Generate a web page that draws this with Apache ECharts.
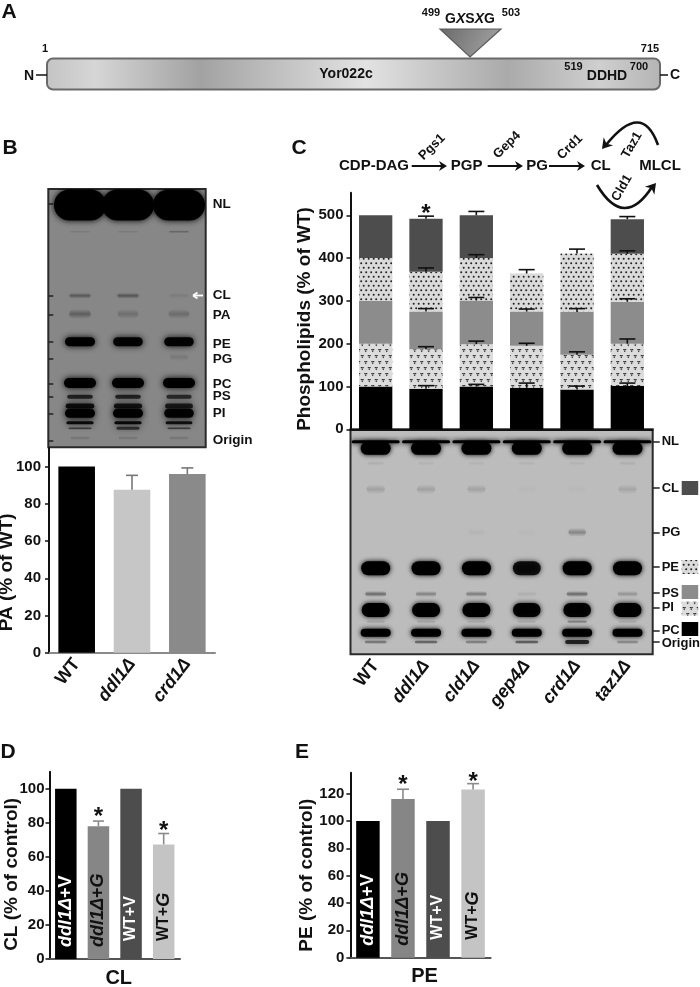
<!DOCTYPE html>
<html>
<head>
<meta charset="utf-8">
<script src="https://cdn.jsdelivr.net/npm/echarts@6/dist/echarts.min.js"></script>
<style>
  html, body { margin: 0; padding: 0; background: #fff; }
  #chart { width: 700px; height: 987px; }
</style>
</head>
<body>
<div id="chart"></div>
<script>
// panel B bars
const bLabels = ['WT', 'ddl1Δ', 'crd1Δ'];
const bValues = [100, 87.5, 96];
const bErrTops = [100, 95.3, 99.3];

// panel C stacks, bottom to top
const cLabels = ['WT', 'ddl1Δ', 'cld1Δ', 'gep4Δ', 'crd1Δ', 'taz1Δ'];
const cPC = [100, 95, 100, 97, 93, 101];
const cPI = [100, 92, 99, 98, 81, 99];
const cPS = [100, 88, 102, 80, 100, 98];
const cPE = [100, 93, 99, 89, 137, 112];
const cCL = [100, 124, 100, 0, 0, 81];
const cErrPC = [100, 102, 105, 108, 101, 108];
const cErrPI = [200, 193, 206, 201, 181, 211];
const cErrPS = [300, 282, 308, 281, 282, 305];
const cErrPE = [400, 377, 408, 373, 421, 417];
const cErrCL = [500, 498, 509, 0, 0, 497];

// panels D and E
const dLabels = ['ddl1Δ+V', 'ddl1Δ+G', 'WT+V', 'WT+G'];
const dValues = [100, 78, 100, 67.3];
const dErrTops = [100, 81, 100, 73.7];
const eValues = [100, 116, 100, 123];
const eErrTops = [100, 123.2, 100, 127.3];

// gel bands: migration distance from gel top, then one intensity per lane
const bLanePos = [31.7, 79.7, 130.7];
const bBandPos = [16, 42.7, 106.7, 125, 152.7, 168, 194, 207.7, 217, 224.3, 233.7, 239.3, 249];
const bBandInt = [
  [1, 1, 1], [0.1, 0.1, 0.25], [0.3, 0.32, 0.08], [0.26, 0.16, 0.18], [1, 0.95, 0.95],
  [0, 0, 0.1], [1, 1, 1], [0.7, 0.7, 0.65], [0.85, 0.8, 0.75], [1, 1, 0.95],
  [0.9, 0.9, 0.85], [0.55, 0.6, 0.55], [0.15, 0.15, 0.15]
];
const bTickPos = [15, 106.7, 125.5, 153, 170, 195, 207.7, 224.5, 251.5];
const bLabelPos = [15, 106.7, 126.5, 155, 170, 195, 207.7, 224.5, 251.7, 258.3];
const bTickNames = ['NL', 'CL', 'PA', 'PE', 'PG', 'PC', 'PS', 'PI', 'Origin', ''];

const cBandPos = [12.4, 19, 34, 60, 103, 139, 164.7, 180.7, 192.4, 203.4, 212.7];
const cBandInt = [
  [1, 1, 1, 1, 1, 1], [1, 1, 1, 1, 1, 1], [0.07, 0.05, 0.05, 0.05, 0.05, 0.07],
  [0.13, 0.13, 0.12, 0.02, 0.02, 0.11], [0, 0, 0.04, 0.02, 0.25, 0],
  [1, 1, 1, 0.86, 1, 1], [0.38, 0.28, 0.3, 0.07, 0.38, 0.2], [1, 1, 1, 0.95, 0.95, 1],
  [0.12, 0.12, 0.1, 0.1, 0.3, 0.1], [1, 1, 1, 1, 1, 1], [0.4, 0.5, 0.35, 0.55, 0.75, 0.3]
];
const cTickPos = [12.4, 58.7, 103, 137.7, 163.7, 178.2, 201.7, 212.4];
const cLabelPos = [12.4, 58.7, 103, 137.7, 163.7, 178.2, 200.7, 213.7, 225];
const cTickNames = ['NL', 'CL', 'PG', 'PE', 'PS', 'PI', 'PC', 'Origin', ''];

// band drawing sizes, same order as the positions above
const bBandW = [52, 25, 26, 27, 30, 24, 32, 28, 30, 30, 28, 26, 25];
const bBandH = [31, 3, 6, 10, 9, 8, 10, 4, 5, 9, 3, 3, 4];
const cBandW = [48, 30, 21, 24, 22, 29, 25, 28, 24, 30, 26];
const cBandH = [3, 13, 5, 10, 9, 14, 6, 14, 4, 8, 4];

const FONT = '"Liberation Sans", Arial, sans-serif';
const bold = (size, color) => ({ fontFamily: FONT, fontWeight: 'bold', fontSize: size, color: color || '#111' });

function dotPattern() {
  const c = document.createElement('canvas');
  c.width = 5; c.height = 9;
  const g = c.getContext('2d');
  g.fillStyle = '#dadada'; g.fillRect(0, 0, 5, 9);
  g.fillStyle = '#222';
  [[1.2, 2.2], [3.7, 6.7]].forEach(p => { g.beginPath(); g.arc(p[0], p[1], 1, 0, 7); g.fill(); });
  return { image: c, repeat: 'repeat' };
}

function heartPattern() {
  const c = document.createElement('canvas');
  c.width = 7; c.height = 12;
  const g = c.getContext('2d');
  g.fillStyle = '#dcdcdc'; g.fillRect(0, 0, 7, 12);
  g.fillStyle = '#222';
  [[1.75, 1], [5.25, 7]].forEach(p => {
    g.beginPath();
    g.arc(p[0] - 0.8, p[1] + 0.8, 0.85, 0, 7);
    g.arc(p[0] + 0.8, p[1] + 0.8, 0.85, 0, 7);
    g.moveTo(p[0] - 1.6, p[1] + 1);
    g.lineTo(p[0], p[1] + 3.2);
    g.lineTo(p[0] + 1.6, p[1] + 1);
    g.fill();
  });
  return { image: c, repeat: 'repeat' };
}

const dots = dotPattern();
const hearts = heartPattern();

// error bars, stem from the bar top to the cap
function errorSeries(gridIndex, bases, tops, color, capW) {
  return {
    type: 'custom', xAxisIndex: gridIndex, yAxisIndex: gridIndex, z: 6, silent: true,
    data: bases.map((b, i) => [i, b, tops[i]]).filter(d => d[2] > d[1]),
    encode: { x: 0, y: [1, 2] },
    renderItem(params, api) {
      const a = api.coord([api.value(0), api.value(1)]);
      const b = api.coord([api.value(0), api.value(2)]);
      const style = { stroke: color, lineWidth: 1.6 };
      return {
        type: 'group',
        children: [
          { type: 'line', shape: { x1: a[0], y1: a[1], x2: b[0], y2: b[1] }, style },
          { type: 'line', shape: { x1: b[0] - capW / 2, y1: b[1], x2: b[0] + capW / 2, y2: b[1] }, style }
        ]
      };
    }
  };
}

function starSeries(gridIndex, points) {
  return {
    type: 'custom', xAxisIndex: gridIndex, yAxisIndex: gridIndex, z: 7, silent: true,
    data: points,
    renderItem(params, api) {
      const p = api.coord([api.value(0), api.value(1)]);
      return {
        type: 'text',
        style: { x: p[0], y: p[1], text: '*', align: 'center', verticalAlign: 'top', font: 'bold 24px ' + FONT, fill: '#111' }
      };
    }
  };
}

// gel bands as soft rounded rects
function gelSeries(gridIndex, lanes, pos, ints, widths, heights, blur) {
  const data = [];
  pos.forEach((y, row) => {
    ints[row].forEach((v, lane) => {
      if (v > 0) data.push([lanes ? lanes[lane] : lane, y, v, row]);
    });
  });
  return {
    type: 'custom', xAxisIndex: gridIndex, yAxisIndex: gridIndex, z: 3, silent: true,
    data,
    encode: { x: 0, y: 1 },
    renderItem(params, api) {
      const p = api.coord([api.value(0), api.value(1)]);
      const v = api.value(2);
      const row = api.value(3);
      const w = widths[row] * (v < 1 ? 0.72 + 0.28 * v : 1);
      const h = heights[row];
      const color = 'rgba(0,0,0,' + v + ')';
      const edge = 'rgba(0,0,0,0)';
      const soft = v < 0.6;
      const cs = params.coordSys;
      return {
        type: 'rect',
        shape: { x: p[0] - w / 2, y: p[1] - h / 2, width: w, height: h, r: h / 2 },
        clipPath: { type: 'rect', shape: { x: cs.x, y: cs.y, width: cs.width, height: cs.height } },
        style: {
          fill: soft
            ? { type: 'linear', x: 0, y: 0, x2: 0, y2: 1, colorStops: [{ offset: 0, color: edge }, { offset: 0.5, color }, { offset: 1, color: edge }] }
            : color,
          shadowBlur: soft ? 4 : blur,
          shadowColor: color
        }
      };
    }
  };
}

function plainBars(gridIndex, values, colors, width, labels) {
  return {
    type: 'bar', xAxisIndex: gridIndex, yAxisIndex: gridIndex, barWidth: width, z: 4,
    data: values.map((v, i) => {
      const item = { value: v, itemStyle: { color: colors[i] } };
      if (labels) {
        item.label = {
          show: true, position: 'insideBottom', distance: i < 2 ? 12 : 18, rotate: 90,
          align: 'left', verticalAlign: 'middle',
          formatter: labels.rich[i],
          rich: {
            i: { fontFamily: FONT, fontWeight: 'bold', fontStyle: 'italic', fontSize: 18, color: labels.colors[i] },
            n: { fontFamily: FONT, fontWeight: 'bold', fontSize: i < 2 ? 18 : 16, color: labels.colors[i] }
          }
        };
      }
      return item;
    })
  };
}

function stackBar(name, values, fill) {
  return {
    name, type: 'bar', xAxisIndex: 2, yAxisIndex: 2, stack: 'total', barWidth: 33.3, z: 4,
    itemStyle: { color: fill }, data: values
  };
}

function cumulative(layers) {
  const sum = cLabels.map(() => 0);
  return layers.map(l => l.map((v, i) => (sum[i] += v)));
}

const cTops = cumulative([cPC, cPI, cPS, cPE, cCL]);
const laneRich = {
  n: bold(18),
  i: { fontFamily: FONT, fontWeight: 'bold', fontStyle: 'italic', fontSize: 18, color: '#111' }
};
const laneFormat = v => (v === 'WT' ? '{n|WT}' : '{i|' + v + '}');
const inBarRich = ['{i|ddl1Δ}{n|+V}', '{i|ddl1Δ}{n|+}{i|G}', '{n|WT+V}', '{n|WT+}{i|G}'];

function valueAxis(gridIndex, max, ticks, name, gap, size, shift, margin) {
  return {
    type: 'value', gridIndex, min: 0, max,
    name, nameLocation: 'middle', nameGap: gap, nameRotate: 90, nameMoveOverlap: false,
    nameTextStyle: Object.assign(bold(size), { padding: [0, shift, 0, 0] }),
    axisLine: { show: true, lineStyle: { color: '#111', width: 2 } },
    axisTick: { show: true, length: 4, customValues: ticks, lineStyle: { color: '#111', width: 1.5 } },
    axisLabel: Object.assign({ customValues: ticks, margin }, bold(15)),
    splitLine: { show: false }
  };
}

// the last label position carries an empty name, so the axis keeps the real last two
function gelAxis(gridIndex, max, ticks, labels, names, size, tick, margin) {
  return {
    type: 'value', gridIndex, min: 0, max, inverse: true, position: 'right',
    axisLine: { show: false },
    axisTick: { show: true, length: tick, customValues: ticks, lineStyle: { color: '#222', width: 1.5 } },
    axisLabel: Object.assign({
      customValues: labels, margin, hideOverlap: false,
      formatter: v => names[labels.indexOf(v)] || ''
    }, bold(size)),
    splitLine: { show: false }
  };
}

const barXAxis = (gridIndex, data, color, extra) => Object.assign({
  type: 'category', gridIndex, data,
  axisLine: { show: true, onZero: false, lineStyle: { color, width: 2 } },
  axisTick: { show: false },
  axisLabel: { show: false }
}, extra);

const gelFrame = (left, right, top, bottom, bg) => ({
  left, top, width: right - left, height: bottom - top, show: true, outerBoundsMode: 'none',
  backgroundColor: bg, borderColor: '#2a2a2a', borderWidth: 2
});
const barGrid = (left, right, top, bottom) => ({ left, top, width: right - left, height: bottom - top, outerBoundsMode: 'none' });

const txt = (x, y, text, font, extra) => ({
  type: 'text', x, y, z: 20,
  style: Object.assign({ text, font: font + ' ' + FONT, fill: '#111', align: 'center', verticalAlign: 'middle' }, extra)
});
const seg = (x1, y1, x2, y2, w, color) => ({
  type: 'line', z: 20, shape: { x1, y1, x2, y2 }, style: { stroke: color || '#111', lineWidth: w }
});
const head = (x, y, angle, size) => {
  // filled barbed arrow head pointing along angle
  const a = angle * Math.PI / 180;
  const pt = (d, o) => [x + Math.cos(a) * d - Math.sin(a) * o, y + Math.sin(a) * d + Math.cos(a) * o];
  return { type: 'polygon', z: 20, shape: { points: [pt(0, 0), pt(-size, -size * 0.62), pt(-size * 0.7, 0), pt(-size, size * 0.62)] }, style: { fill: '#111' } };
};
const curve = (x1, y1, cx, cy, x2, y2) => ({
  type: 'bezierCurve', z: 20, shape: { x1, y1, x2, y2, cpx1: cx, cpy1: cy },
  style: { stroke: '#111', lineWidth: 2.6, fill: null }
});
const swatch = (y, fill) => ({ type: 'rect', z: 20, shape: { x: 681.7, y, width: 16.5, height: 14 }, style: { fill } });

const graphics = [
  // panel letters
  txt(9, 12, 'A', 'bold 21px'), txt(10, 148, 'B', 'bold 21px'), txt(299, 148, 'C', 'bold 21px'),
  txt(8, 752, 'D', 'bold 21px'), txt(302, 752, 'E', 'bold 21px'),

  // panel A schematic
  seg(36, 75, 47, 75, 1.5), seg(660, 75, 668, 75, 1.5),
  {
    type: 'rect', z: 18, shape: { x: 47, y: 58.5, width: 613, height: 31, r: 6 },
    style: {
      stroke: '#6a6a6a', lineWidth: 2,
      fill: {
        type: 'linear', x: 0, y: 0, x2: 1, y2: 0,
        colorStops: [
          { offset: 0, color: '#c4c4c4' }, { offset: 0.08, color: '#d6d6d6' }, { offset: 0.25, color: '#a2a2a2' },
          { offset: 0.52, color: '#e2e2e2' }, { offset: 0.75, color: '#aaaaaa' }, { offset: 0.9, color: '#cfcfcf' },
          { offset: 1, color: '#b4b4b4' }
        ]
      }
    }
  },
  {
    type: 'polygon', z: 19, shape: { points: [[440, 29], [501, 29], [470, 57]] },
    style: {
      stroke: '#5c5c5c', lineWidth: 1.2,
      fill: { type: 'linear', x: 0, y: 0, x2: 1, y2: 1, colorStops: [{ offset: 0, color: '#6a6a6a' }, { offset: 1, color: '#a8a8a8' }] }
    }
  },
  txt(29, 76, 'N', 'bold 14px'), txt(675, 75, 'C', 'bold 14px'),
  txt(45, 49, '1', 'bold 11px'), txt(650, 49, '715', 'bold 11px'),
  txt(431, 13, '499', 'bold 11px'), txt(511, 13, '503', 'bold 11px'),
  {
    type: 'text', x: 470, y: 19, z: 20,
    style: {
      text: '{n|G}{i|X}{n|S}{i|X}{n|G}', align: 'center', verticalAlign: 'middle',
      rich: {
        n: { fontFamily: FONT, fontSize: 14, fontWeight: 'bold', fill: '#111' },
        i: { fontFamily: FONT, fontSize: 14, fontWeight: 'bold', fontStyle: 'italic', fill: '#111' }
      }
    }
  },
  txt(346, 74, 'Yor022c', 'bold 14px'),
  txt(573.5, 67, '519', 'bold 11px'), txt(607, 76, 'DDHD', 'bold 14px'), txt(639, 67, '700', 'bold 11px'),

  // white arrow on the panel B gel
  seg(194, 295.5, 203, 295.5, 1.8, '#fff'), seg(193, 295.5, 197.5, 292.5, 1.8, '#fff'), seg(193, 295.5, 197.5, 298.5, 1.8, '#fff'),

  // panel C pathway
  txt(374, 166, 'CDP-DAG', 'bold 15px'), txt(466.7, 166, 'PGP', 'bold 15px'), txt(537, 166, 'PG', 'bold 15px'),
  txt(600.7, 166, 'CL', 'bold 15px'), txt(660, 166, 'MLCL', 'bold 15px'),
  seg(411.7, 166, 444, 166, 2), head(447, 166, 0, 8),
  seg(487.7, 166, 520, 166, 2), head(523, 166, 0, 8),
  seg(549, 166, 582, 166, 2), head(585, 166, 0, 8),
  Object.assign(txt(432, 147, 'Pgs1', 'bold 13px'), { rotation: Math.PI / 4 }),
  Object.assign(txt(507, 145, 'Gep4', 'bold 13px'), { rotation: Math.PI / 4 }),
  Object.assign(txt(570, 147, 'Crd1', 'bold 13px'), { rotation: Math.PI / 4 }),
  Object.assign(txt(632, 145, 'Taz1', 'bold 13px'), { rotation: Math.PI / 3 }),
  Object.assign(txt(622, 188, 'Cld1', 'bold 13px'), { rotation: Math.PI / 3 }),
  curve(658, 145, 642, 100, 606, 145), head(602, 149, 130, 10),
  curve(597, 185, 624, 230, 652, 187), head(656, 183, -50, 10),

  // panel C legend swatches
  swatch(481, '#4d4d4d'), swatch(560, dots), swatch(585, '#8c8c8c'), swatch(601.7, hearts), swatch(622, '#000')
];

const option = {
  animation: false,
  backgroundColor: '#fff',
  textStyle: { fontFamily: FONT },
  graphic: { elements: graphics },
  grid: [
    barGrid(49, 215, 448, 652.7),
    gelFrame(48.3, 205.7, 189, 447.3, '#878787'),
    barGrid(350.5, 652.5, 192.7, 429.3),
    gelFrame(350.5, 652.7, 429.3, 654.3, '#bcbcbc'),
    barGrid(49.5, 180, 771.7, 959),
    barGrid(350.4, 490.6, 772.7, 957.7)
  ],
  xAxis: [
    barXAxis(0, bLabels, '#8a8a8a', { axisLabel: { show: true, rotate: 52, margin: 8, interval: 0, formatter: laneFormat, rich: laneRich } }),
    { type: 'value', gridIndex: 1, min: 0, max: 157.4, show: false },
    barXAxis(2, cLabels, '#111'),
    {
      type: 'category', gridIndex: 3, data: cLabels,
      axisLine: { show: false }, axisTick: { show: false },
      axisLabel: { show: true, rotate: 52, margin: 8, interval: 0, formatter: laneFormat, rich: laneRich }
    },
    barXAxis(4, dLabels, '#555', { name: 'CL', nameLocation: 'middle', nameGap: 9, nameTextStyle: Object.assign(bold(20), { padding: [0, 0, 0, 8], verticalAlign: 'top' }) }),
    barXAxis(5, dLabels, '#555', { name: 'PE', nameLocation: 'middle', nameGap: 9, nameTextStyle: Object.assign(bold(20), { padding: [0, 0, 0, 8], verticalAlign: 'top' }) })
  ],
  yAxis: [
    valueAxis(0, 110, [0, 20, 40, 60, 80, 100], 'PA (% of WT)', 33, 19, 44, 8),
    gelAxis(1, 258.3, bTickPos, bLabelPos, bTickNames, 13.5, 5, 7),
    valueAxis(2, 552.8, [0, 100, 200, 300, 400, 500], 'Phospholipids (% of WT)', 36, 19, 16, 7),
    gelAxis(3, 225, cTickPos, cLabelPos, cTickNames, 13, 7, 9),
    valueAxis(4, 110, [0, 20, 40, 60, 80, 100], 'CL (% of control)', 28, 19, 18, 5),
    valueAxis(5, 135.3, [0, 20, 40, 60, 80, 100, 120], 'PE (% of control)', 34, 19, 20, 6)
  ],
  series: [
    plainBars(0, bValues, ['#000', '#c6c6c6', '#8a8a8a'], 36.6),
    errorSeries(0, bValues, bErrTops, '#777', 12),
    gelSeries(1, bLanePos, bBandPos, bBandInt, bBandW, bBandH, 6),

    stackBar('PC', cPC, '#000'),
    stackBar('PI', cPI, hearts),
    stackBar('PS', cPS, '#8c8c8c'),
    stackBar('PE', cPE, dots),
    stackBar('CL', cCL, '#4d4d4d'),
    errorSeries(2, cTops[0], cErrPC, '#111', 16),
    errorSeries(2, cTops[1], cErrPI, '#111', 16),
    errorSeries(2, cTops[2], cErrPS, '#111', 16),
    errorSeries(2, cTops[3], cErrPE, '#111', 16),
    errorSeries(2, cTops[4], cErrCL, '#111', 16),
    starSeries(2, [[1, 531]]),
    gelSeries(3, null, cBandPos, cBandInt, cBandW, cBandH, 5),

    plainBars(4, dValues, ['#000', '#868686', '#4d4d4d', '#c4c4c4'], 21.5,
      { rich: inBarRich, colors: ['#fff', '#111', '#fff', '#111'] }),
    errorSeries(4, dValues, dErrTops, '#8a8a8a', 11),
    starSeries(4, [[1, 90], [3, 82]]),

    plainBars(5, eValues, ['#000', '#868686', '#4d4d4d', '#c4c4c4'], 23.5,
      { rich: inBarRich, colors: ['#fff', '#111', '#fff', '#111'] }),
    errorSeries(5, eValues, eErrTops, '#8a8a8a', 12),
    starSeries(5, [[1, 135], [3, 137]])
  ]
};

const chart = echarts.init(document.querySelector('#chart'));
chart.setOption(option);
</script>
</body>
</html>
